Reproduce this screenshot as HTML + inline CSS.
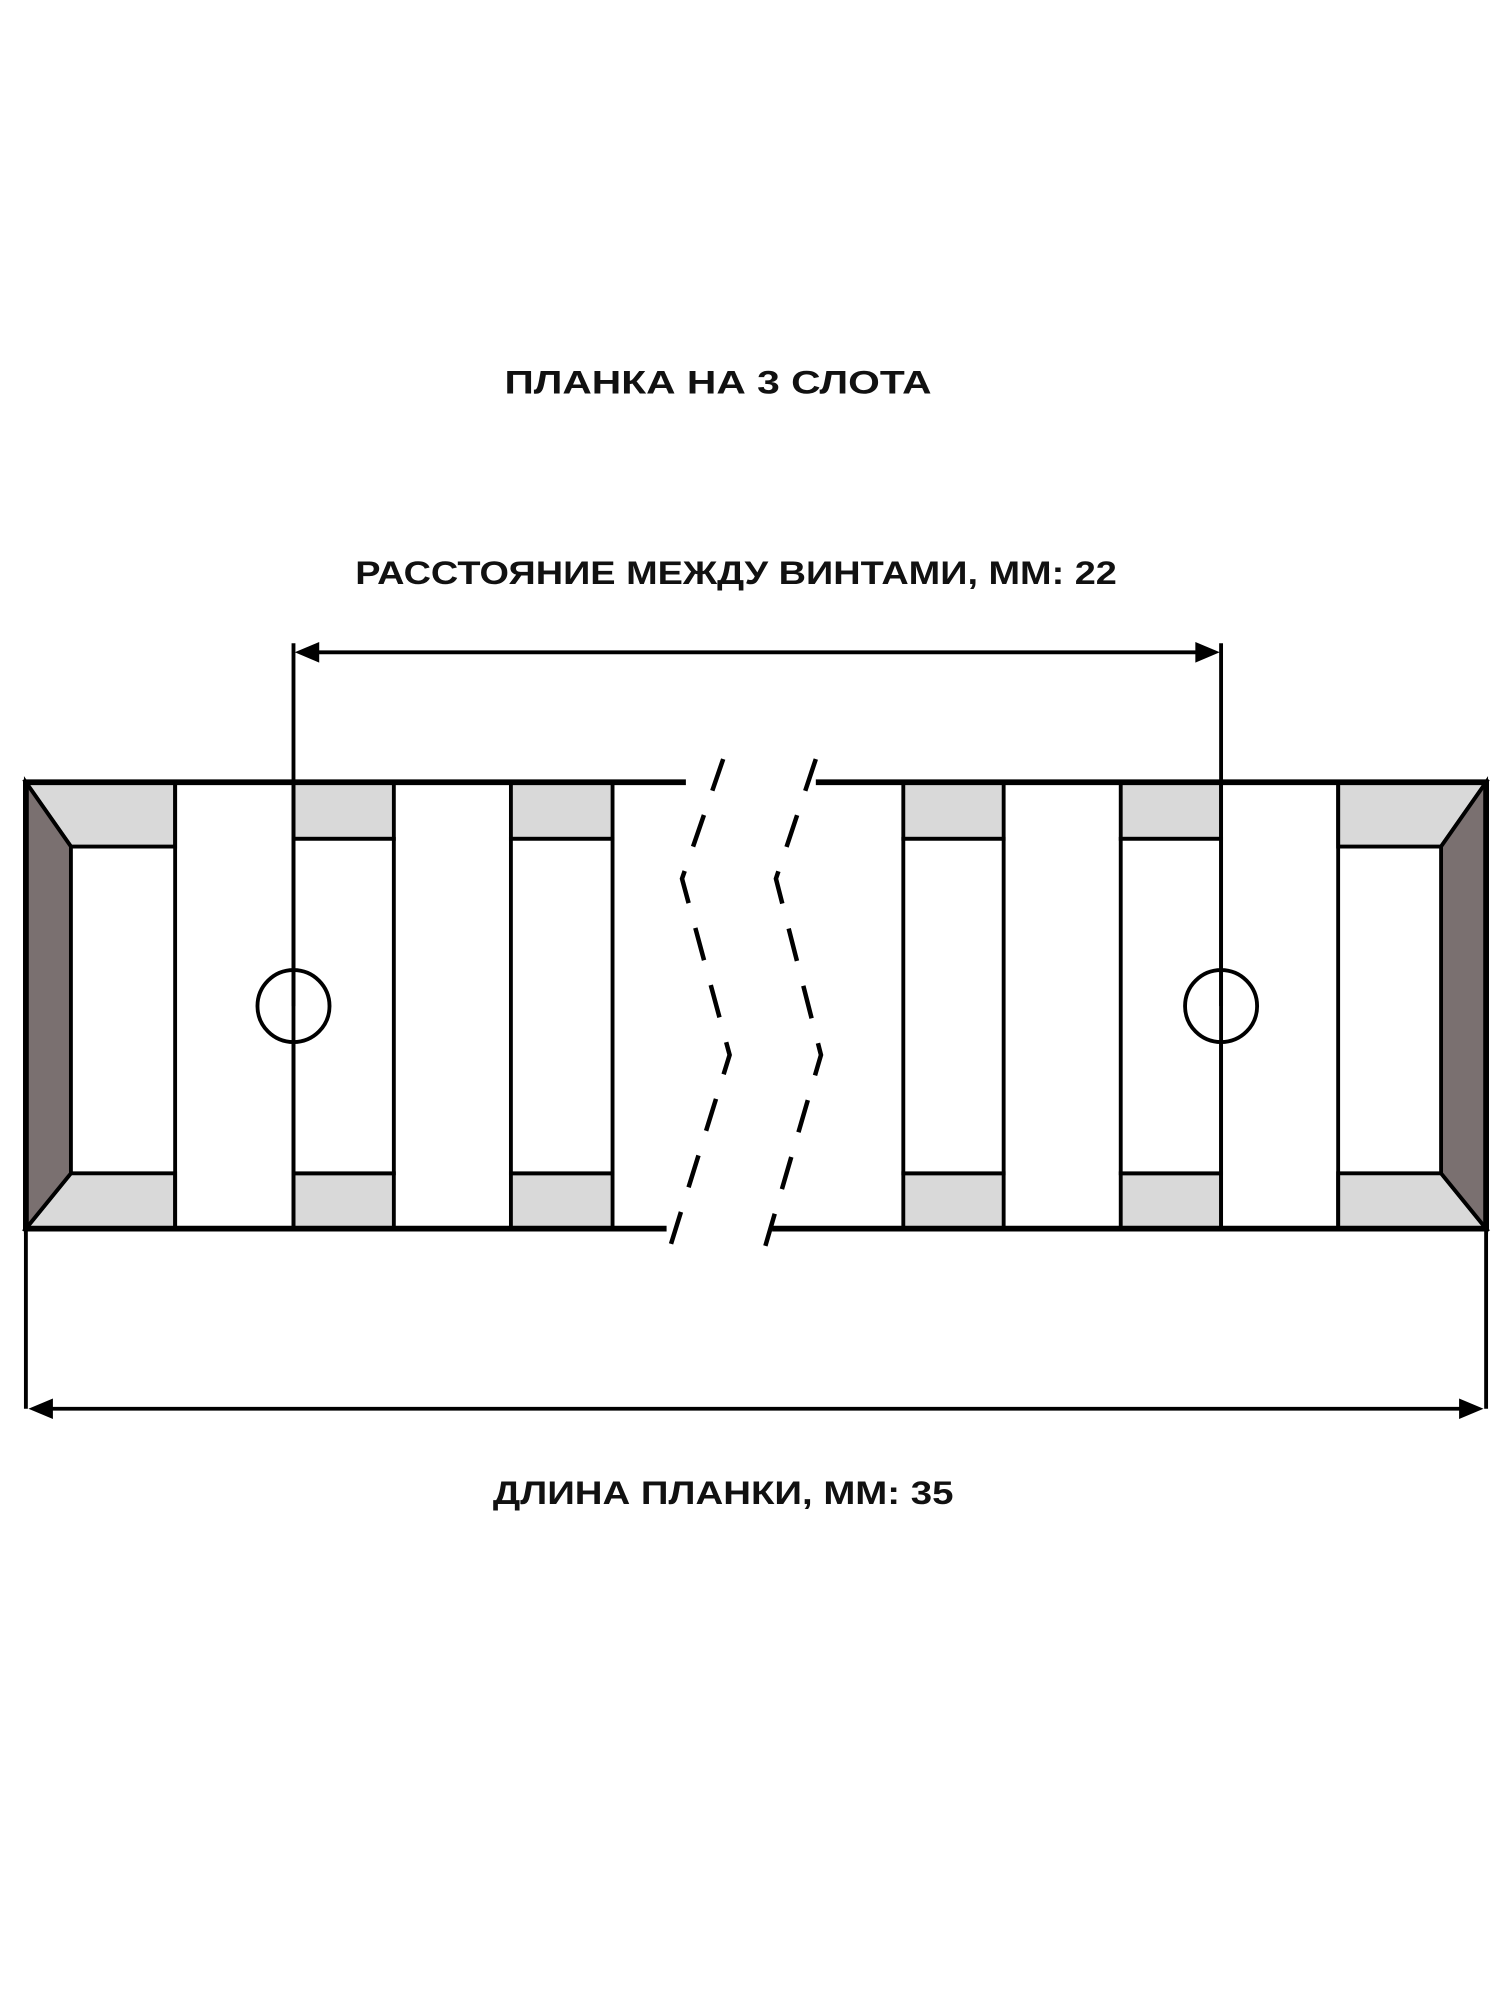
<!DOCTYPE html>
<html><head><meta charset="utf-8"><style>
html,body{margin:0;padding:0;background:#fff;}
svg{display:block;}
text{font-family:"Liberation Sans",sans-serif;font-weight:bold;fill:#111;}
</style></head><body>
<svg width="1512" height="2016" viewBox="0 0 1175 1567" xmlns="http://www.w3.org/2000/svg">
<rect width="1175" height="1567" fill="#fff"/>
<text x="558" y="306" text-anchor="middle" font-size="25" textLength="332" lengthAdjust="spacingAndGlyphs">ПЛАНКА НА 3 СЛОТА</text>
<text x="572" y="454" text-anchor="middle" font-size="25" textLength="592" lengthAdjust="spacingAndGlyphs">РАССТОЯНИЕ МЕЖДУ ВИНТАМИ, ММ: 22</text>
<text x="562" y="1169" text-anchor="middle" font-size="25" textLength="358" lengthAdjust="spacingAndGlyphs">ДЛИНА ПЛАНКИ, ММ: 35</text>

<g stroke="#000" stroke-width="3">
<!-- left end block -->
<polygon points="20,608 136,608 136,658 55,658" fill="#d9d9d9"/>
<polygon points="20,955 136,955 136,912 55,912" fill="#d9d9d9"/>
<polygon points="20,608 55,658 55,912 20,955" fill="#7a7070"/>
<line x1="136" y1="608" x2="136" y2="955"/>
<!-- grey slots left -->
<rect x="228" y="608" width="78" height="44" fill="#d9d9d9"/>
<rect x="228" y="912" width="78" height="43" fill="#d9d9d9"/>
<rect x="228" y="652" width="78" height="260" fill="#fff"/>
<rect x="397" y="608" width="79" height="44" fill="#d9d9d9"/>
<rect x="397" y="912" width="79" height="43" fill="#d9d9d9"/>
<rect x="397" y="652" width="79" height="260" fill="#fff"/>
<!-- right slots -->
<rect x="702" y="608" width="78" height="44" fill="#d9d9d9"/>
<rect x="702" y="912" width="78" height="43" fill="#d9d9d9"/>
<rect x="702" y="652" width="78" height="260" fill="#fff"/>
<rect x="871" y="608" width="78" height="44" fill="#d9d9d9"/>
<rect x="871" y="912" width="78" height="43" fill="#d9d9d9"/>
<rect x="871" y="652" width="78" height="260" fill="#fff"/>
<!-- right end block -->
<polygon points="1155,608 1040,608 1040,658 1120,658" fill="#d9d9d9"/>
<polygon points="1155,955 1040,955 1040,912 1120,912" fill="#d9d9d9"/>
<polygon points="1155,608 1120,658 1120,912 1155,955" fill="#7a7070"/>
<line x1="1040" y1="608" x2="1040" y2="955"/>
</g>
<!-- rails -->
<g stroke="#000" stroke-width="4.5">
<line x1="20" y1="608" x2="533" y2="608"/>
<line x1="20" y1="955" x2="518" y2="955"/>
<line x1="634" y1="608" x2="1157" y2="608"/>
<line x1="600" y1="955" x2="1157" y2="955"/>
<line x1="20" y1="606" x2="20" y2="957"/>
<line x1="1155" y1="606" x2="1155" y2="957"/>
</g>
<!-- break dashed zigzags -->
<g stroke="#000" stroke-width="3.5" fill="none" stroke-dasharray="26 20">
<polyline points="562,590 530,683 567,820 518,978"/>
<polyline points="634,590 603,683 638,820 592,978"/>
</g>
<!-- screw holes -->
<g stroke="#000" stroke-width="3" fill="none">
<circle cx="228" cy="782" r="28"/>
<circle cx="949" cy="782" r="28"/>
<line x1="228" y1="500" x2="228" y2="782"/>
<line x1="228" y1="810" x2="228" y2="955"/>
<line x1="949" y1="500" x2="949" y2="782"/>
<line x1="949" y1="810" x2="949" y2="955"/>
<line x1="240" y1="507" x2="937" y2="507"/>
<line x1="20" y1="957" x2="20" y2="1095"/>
<line x1="1155" y1="957" x2="1155" y2="1095"/>
<line x1="34" y1="1095" x2="1141" y2="1095"/>
</g>
<g fill="#000">
<polygon points="229,507 248,499 248,515"/>
<polygon points="948,507 929,499 929,515"/>
<polygon points="22,1095 41,1087 41,1103"/>
<polygon points="1153,1095 1134,1087 1134,1103"/>
</g>
</svg>
</body></html>
